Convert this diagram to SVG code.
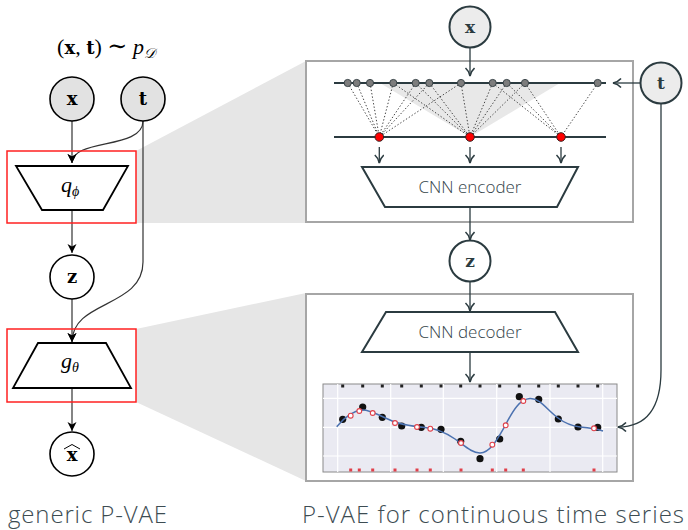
<svg xmlns="http://www.w3.org/2000/svg" width="688" height="530" viewBox="0 0 688 530">
  <style>
    .math { font-family: "Liberation Serif", "DejaVu Serif", serif; }
    .bold { font-family: "DejaVu Serif", "Liberation Serif", serif; font-weight: bold; }
    .it { font-family: "Liberation Serif", "DejaVu Serif", serif; font-style: italic; }
    .caption { font-family: "Open Sans", "Lato", sans-serif; font-weight: 350; font-size: 24px; fill: #3d4c52; }
    .cnn { font-family: "Open Sans", "Lato", sans-serif; font-weight: 350; font-size: 17px; fill: #34444a; }
    .lnode { stroke: #000; stroke-width: 1.6; }
    .rnode { stroke: #2b3b40; stroke-width: 2; }
    .obs { fill: #e2e2e2; }
    .obsr { fill: #ececec; }
    .lat { fill: #fff; }
    .redbox { fill: none; stroke: #ff2020; stroke-width: 1.5; }
    .panel { fill: #fff; stroke: #a6a6a6; stroke-width: 2; }
    .zoomfan { fill: #e6e6e6; }
    .trap-l { fill: #fff; stroke: #000; stroke-width: 1.8; }
    .trap-r { fill: #fff; stroke: #2b3b40; stroke-width: 2; }
    .edge-l { fill: none; stroke: #333; stroke-width: 1.2; }
    .edge-r { fill: none; stroke: #2b3b40; stroke-width: 1.3; }
    .axis { stroke: #2b3b40; stroke-width: 2.2; }
    .dots { stroke: #444; stroke-width: 1; stroke-dasharray: 1.4 2; fill: none; }
    .gpt { fill: #7d7d7d; stroke: #3a4448; stroke-width: 1; }
    .rpt { fill: #f00; stroke: #3a2020; stroke-width: 1; }
    .grid { stroke: #fff; stroke-width: 1.2; }
  </style>
  <defs>
    <marker id="arrL" markerUnits="userSpaceOnUse" markerWidth="12" markerHeight="12" refX="9" refY="4.5" orient="auto">
      <path d="M0,0 L9,4.5 L0,9 L2.5,4.5 z" fill="#000"/>
    </marker>
    <marker id="arrR" markerUnits="userSpaceOnUse" markerWidth="14" markerHeight="14" refX="9" refY="5" orient="auto">
      <path d="M1,0.5 Q4,4 9,5 Q4,6 1,9.5" fill="none" stroke="#2b3b40" stroke-width="1.6"/>
    </marker>
  </defs>

  <!-- zoom fans linking the generic model to the detailed blocks -->
  <g id="fans">
    <polygon class="zoomfan" points="136,151 306,61 306,223 136,223"/>
    <polygon class="zoomfan" points="136,329 306,293 306,481 136,402"/>
  </g>

  <!-- left: generic P-VAE -->
  <text class="math" x="106" y="54" font-size="22" text-anchor="middle">(<tspan class="bold" font-size="18">x</tspan>, <tspan class="bold" font-size="18">t</tspan>) <tspan font-size="24">∼</tspan> <tspan class="it">p</tspan><tspan class="it" font-size="14" dy="4">𝒟</tspan></text>

  <g id="connectors-left">
    <path class="edge-l" d="M72,121 L72,163" marker-end="url(#arrL)"/>
    <path class="edge-l" d="M143,121 C143,150 72,138 72,163" marker-end="url(#arrL)"/>
    <path class="edge-l" d="M72,210 L72,253" marker-end="url(#arrL)"/>
    <path class="edge-l" d="M143,121 L143,262 C143,308 72,300 72,342" marker-end="url(#arrL)"/>
    <path class="edge-l" d="M72,299 L72,342" marker-end="url(#arrL)"/>
    <path class="edge-l" d="M72,388 L72,431" marker-end="url(#arrL)"/>
  </g>

  <g id="node-x">
    <circle class="lnode obs" cx="72" cy="99" r="22"/>
    <text class="bold" x="72" y="105" font-size="18" text-anchor="middle">x</text>
  </g>
  <g id="node-t">
    <circle class="lnode obs" cx="143" cy="99" r="22"/>
    <text class="bold" x="143" y="105" font-size="18" text-anchor="middle">t</text>
  </g>
  <g id="encoder-generic">
    <rect class="redbox" x="7" y="151" width="129" height="72"/>
    <polygon class="trap-l" points="16,166 128,166 103,210 42,210"/>
    <text x="70" y="192" text-anchor="middle" font-size="22"><tspan class="it">q</tspan><tspan class="it" font-size="14" dy="4">ϕ</tspan></text>
  </g>
  <g id="node-z">
    <circle class="lnode lat" cx="72" cy="277" r="22"/>
    <text class="bold" x="72" y="283" font-size="18" text-anchor="middle">z</text>
  </g>
  <g id="decoder-generic">
    <rect class="redbox" x="7" y="329" width="129" height="73"/>
    <polygon class="trap-l" points="38,343 106,343 131,388 13,388"/>
    <text x="70" y="368" text-anchor="middle" font-size="22"><tspan class="it">g</tspan><tspan class="it" font-size="14" dy="4">θ</tspan></text>
  </g>
  <g id="node-xhat">
    <circle class="lnode lat" cx="72" cy="454" r="22"/>
    <text class="bold" x="72" y="461" font-size="18" text-anchor="middle">x</text>
    <path d="M64,449 L72,444.5 L80,449" fill="none" stroke="#000" stroke-width="1"/>
  </g>

  <text class="caption" x="8" y="523" textLength="159" lengthAdjust="spacing">generic P-VAE</text>

  <!-- right: P-VAE for continuous time series -->
  <g id="panel-encoder">
    <rect class="panel" x="306" y="61" width="327" height="161"/>
    <polygon points="380,83 560,83 470,137" fill="#e8e8e8"/>
    <line class="axis" x1="334" y1="83" x2="606" y2="83"/>
    <line class="axis" x1="334" y1="137" x2="606" y2="137"/>
    <!-- kernel links from irregular samples to reference points -->
    <g class="dots">
      <path d="M347.7,83 L379.3,137 M356.7,83 L379.3,137 M370,83 L379.3,137 M393.3,83 L379.3,137 M415.7,83 L379.3,137 M429.3,83 L379.3,137 M461,83 L379.3,137"/>
      <path d="M393.3,83 L470,137 M415.7,83 L470,137 M429.3,83 L470,137 M461,83 L470,137 M492.7,83 L470,137 M506.7,83 L470,137 M525,83 L470,137"/>
      <path d="M492.7,83 L561,137 M506.7,83 L561,137 M525,83 L561,137 M597.7,83 L561,137"/>
    </g>
    <g>
      <circle class="gpt" cx="347.7" cy="83" r="3.6"/>
      <circle class="gpt" cx="356.7" cy="83" r="3.6"/>
      <circle class="gpt" cx="370" cy="83" r="3.6"/>
      <circle class="gpt" cx="393.3" cy="83" r="3.6"/>
      <circle class="gpt" cx="415.7" cy="83" r="3.6"/>
      <circle class="gpt" cx="429.3" cy="83" r="3.6"/>
      <circle class="gpt" cx="461" cy="83" r="3.6"/>
      <circle class="gpt" cx="492.7" cy="83" r="3.6"/>
      <circle class="gpt" cx="506.7" cy="83" r="3.6"/>
      <circle class="gpt" cx="525" cy="83" r="3.6"/>
      <circle class="gpt" cx="597.7" cy="83" r="3.6"/>
    </g>
    <g>
      <circle class="rpt" cx="379.3" cy="137" r="4.3"/>
      <circle class="rpt" cx="470" cy="137" r="4.3"/>
      <circle class="rpt" cx="561" cy="137" r="4.3"/>
    </g>
    <polygon class="trap-r" points="362,167 578,167 557,207 385,207"/>
    <text class="cnn" x="470" y="193" text-anchor="middle">CNN encoder</text>
  </g>

  <g id="panel-decoder">
    <rect class="panel" x="306" y="294" width="327" height="187"/>
    <polygon class="trap-r" points="386,312 555,312 578,352 362,352"/>
    <text class="cnn" x="470" y="338" text-anchor="middle">CNN decoder</text>
    <!-- reconstructed series plot -->
    <rect x="323" y="384" width="294" height="88" fill="#eaeaf2" stroke="#8a8a8a" stroke-width="1"/>
    <g class="grid">
      <line x1="337.7" y1="384" x2="337.7" y2="472"/>
      <line x1="390.7" y1="384" x2="390.7" y2="472"/>
      <line x1="443.3" y1="384" x2="443.3" y2="472"/>
      <line x1="496.7" y1="384" x2="496.7" y2="472"/>
      <line x1="550" y1="384" x2="550" y2="472"/>
      <line x1="602.7" y1="384" x2="602.7" y2="472"/>
      <line x1="323" y1="398.3" x2="617" y2="398.3"/>
      <line x1="323" y1="427.3" x2="617" y2="427.3"/>
      <line x1="323" y1="456" x2="617" y2="456"/>
    </g>
    <g fill="#222">
      <rect x="341.2" y="384.5" width="3" height="3"/>
      <rect x="361.2" y="384.5" width="3" height="3"/>
      <rect x="380.8" y="384.5" width="3" height="3"/>
      <rect x="400.2" y="384.5" width="3" height="3"/>
      <rect x="419.8" y="384.5" width="3" height="3"/>
      <rect x="439.5" y="384.5" width="3" height="3"/>
      <rect x="459.2" y="384.5" width="3" height="3"/>
      <rect x="478.5" y="384.5" width="3" height="3"/>
      <rect x="498.2" y="384.5" width="3" height="3"/>
      <rect x="517.8" y="384.5" width="3" height="3"/>
      <rect x="537.2" y="384.5" width="3" height="3"/>
      <rect x="556.8" y="384.5" width="3" height="3"/>
      <rect x="576.5" y="384.5" width="3" height="3"/>
      <rect x="596.2" y="384.5" width="3" height="3"/>
    </g>
    <g fill="#e0404a">
      <rect x="349.2" y="468.5" width="3" height="3"/>
      <rect x="357.8" y="468.5" width="3" height="3"/>
      <rect x="371.2" y="468.5" width="3" height="3"/>
      <rect x="393.5" y="468.5" width="3" height="3"/>
      <rect x="415.5" y="468.5" width="3" height="3"/>
      <rect x="428.8" y="468.5" width="3" height="3"/>
      <rect x="459.5" y="468.5" width="3" height="3"/>
      <rect x="490.8" y="468.5" width="3" height="3"/>
      <rect x="504.2" y="468.5" width="3" height="3"/>
      <rect x="521.8" y="468.5" width="3" height="3"/>
      <rect x="592.5" y="468.5" width="3" height="3"/>
    </g>
    <g fill="#111">
      <circle cx="342.7" cy="419.3" r="3.6"/>
      <circle cx="362.7" cy="407" r="3.6"/>
      <circle cx="382.3" cy="417.3" r="3.6"/>
      <circle cx="401.7" cy="426" r="3.6"/>
      <circle cx="421.3" cy="427.3" r="3.6"/>
      <circle cx="441" cy="429.3" r="3.6"/>
      <circle cx="460.7" cy="441.3" r="3.6"/>
      <circle cx="480" cy="458.7" r="3.6"/>
      <circle cx="499.7" cy="439" r="3.6"/>
      <circle cx="519.3" cy="396.7" r="3.6"/>
      <circle cx="538.7" cy="399.3" r="3.6"/>
      <circle cx="558.3" cy="419" r="3.6"/>
      <circle cx="578" cy="427" r="3.6"/>
      <circle cx="597.7" cy="427.3" r="3.6"/>
    </g>
    <path d="M336.7,426.7 C343,419 352,411 362,410 C370,409.5 378,415 390,420 C398,424 410,426 425,427.5 C435,428.5 445,432 455,439 C465,446 472,453 480,453 C490,453 497,440 505,426 C513,410 520,399 530,398.5 C540,398 548,411 558,418 C566,424 572,426 580,427 C590,428 597,429 603,431" fill="none" stroke="#4c72b0" stroke-width="1.5"/>
    <g fill="#fff" stroke="#e0404a" stroke-width="1.1">
      <circle cx="350.7" cy="415.7" r="2.4"/>
      <circle cx="359.3" cy="411" r="2.4"/>
      <circle cx="372.7" cy="413" r="2.4"/>
      <circle cx="395" cy="423" r="2.4"/>
      <circle cx="417" cy="427" r="2.4"/>
      <circle cx="430.3" cy="428.7" r="2.4"/>
      <circle cx="461" cy="443" r="2.4"/>
      <circle cx="492.3" cy="444.7" r="2.4"/>
      <circle cx="505.7" cy="425.3" r="2.4"/>
      <circle cx="523.3" cy="401" r="2.4"/>
      <circle cx="594" cy="428.3" r="2.4"/>
    </g>
  </g>

  <g id="connectors-right">
    <path class="edge-r" d="M470,48 L470,76" marker-end="url(#arrR)"/>
    <path class="edge-r" d="M640,83 L613,83" marker-end="url(#arrR)"/>
    <path class="edge-r" d="M379.3,147 L379.3,163" marker-end="url(#arrR)"/>
    <path class="edge-r" d="M470,147 L470,163" marker-end="url(#arrR)"/>
    <path class="edge-r" d="M561,147 L561,163" marker-end="url(#arrR)"/>
    <path class="edge-r" d="M470,207 L470,240" marker-end="url(#arrR)"/>
    <path class="edge-r" d="M470,282 L470,311" marker-end="url(#arrR)"/>
    <path class="edge-r" d="M470,352 L470,382" marker-end="url(#arrR)"/>
    <path class="edge-r" d="M661,104 L661,370 C661,410 645,427 618,427" marker-end="url(#arrR)"/>
  </g>

  <g id="node-x-right">
    <circle class="rnode obsr" cx="470" cy="27" r="20.5"/>
    <text class="bold" x="470" y="33" font-size="17" text-anchor="middle" fill="#2b3b40">x</text>
  </g>
  <g id="node-t-right">
    <circle class="rnode obsr" cx="661" cy="83" r="20.5"/>
    <text class="bold" x="661" y="89" font-size="17" text-anchor="middle" fill="#2b3b40">t</text>
  </g>
  <g id="node-z-right">
    <circle class="rnode lat" cx="470" cy="261" r="20.5"/>
    <text class="bold" x="470" y="267" font-size="17" text-anchor="middle" fill="#2b3b40">z</text>
  </g>

  <text class="caption" x="302" y="523" textLength="382" lengthAdjust="spacing">P-VAE for continuous time series</text>
</svg>
